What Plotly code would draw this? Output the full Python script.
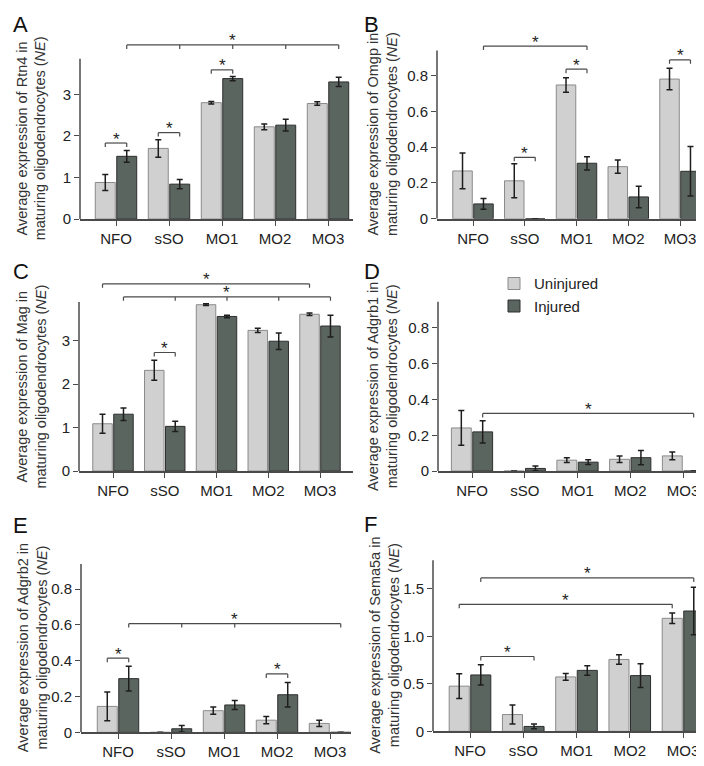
import plotly.graph_objects as go
from plotly.subplots import make_subplots

W, H = 704, 766

categories = ["NFO", "sSO", "MO1", "MO2", "MO3"]
panel_letters = ["A", "B", "C", "D", "E", "F"]
genes = ["Rtn4", "Omgp", "Mag", "Adgrb1", "Adgrb2", "Sema5a"]

# mean expression (NE) and error, uninjured / injured
rtn4_uninj = [0.88, 1.70, 2.80, 2.22, 2.78]
rtn4_uninj_err = [0.19, 0.21, 0.03, 0.07, 0.04]
rtn4_inj = [1.51, 0.84, 3.38, 2.26, 3.30]
rtn4_inj_err = [0.14, 0.11, 0.05, 0.14, 0.11]

omgp_uninj = [0.267, 0.212, 0.747, 0.291, 0.78]
omgp_uninj_err = [0.10, 0.095, 0.04, 0.037, 0.06]
omgp_inj = [0.083, 0.0, 0.31, 0.122, 0.265]
omgp_inj_err = [0.03, None, 0.037, 0.06, 0.138]

mag_uninj = [1.09, 2.32, 3.83, 3.24, 3.61]
mag_uninj_err = [0.22, 0.23, 0.02, 0.05, 0.03]
mag_inj = [1.31, 1.03, 3.56, 2.99, 3.34]
mag_inj_err = [0.145, 0.12, 0.03, 0.19, 0.25]

adgrb1_uninj = [0.241, 0.0, 0.061, 0.066, 0.085]
adgrb1_uninj_err = [0.097, None, 0.013, 0.018, 0.022]
adgrb1_inj = [0.219, 0.015, 0.05, 0.075, 0.0]
adgrb1_inj_err = [0.062, 0.013, 0.013, 0.04, None]

adgrb2_uninj = [0.145, 0.0, 0.121, 0.068, 0.05]
adgrb2_uninj_err = [0.08, None, 0.02, 0.02, 0.017]
adgrb2_inj = [0.30, 0.02, 0.153, 0.21, 0.0]
adgrb2_inj_err = [0.069, 0.018, 0.025, 0.068, None]

sema5a_uninj = [0.476, 0.177, 0.573, 0.757, 1.19]
sema5a_uninj_err = [0.13, 0.10, 0.035, 0.05, 0.055]
sema5a_inj = [0.594, 0.052, 0.642, 0.587, 1.267]
sema5a_inj_err = [0.107, 0.025, 0.05, 0.125, 0.25]

# significance brackets: (level, [(category, group), ...]); group 0 = uninjured, 1 = injured
rtn4_sig = [(1.83, [(0, 0), (0, 1)]), (2.08, [(1, 0), (1, 1)]), (3.59, [(2, 0), (2, 1)]),
            (4.19, [(0, 1), (1, 1), (2, 1), (3, 1), (4, 1)])]
omgp_sig = [(0.964, [(0, 1), (2, 1)]), (0.835, [(2, 0), (2, 1)]),
            (0.343, [(1, 0), (1, 1)]), (0.887, [(4, 0), (4, 1)])]
mag_sig = [(4.31, [(0, 0), (4, 0)]), (4.01, [(0, 1), (1, 1), (2, 1), (3, 1), (4, 1)]),
           (2.73, [(1, 0), (1, 1)])]
adgrb1_sig = [(0.322, [(0, 1), (4, 1)])]
adgrb2_sig = [(0.414, [(0, 0), (0, 1)]), (0.326, [(3, 0), (3, 1)]),
              (0.607, [(0, 1), (1, 1), (2, 1), (4, 1)])]
sema5a_sig = [(1.615, [(0, 1), (4, 1)]), (1.337, [(0, 0), (4, 0)]), (0.788, [(0, 1), (1, 1)])]

ticks_4 = ([0, 1, 2, 3], ["0", "1", "2", "3"])
ticks_08 = ([0, 0.2, 0.4, 0.6, 0.8], ["0", "0.2", "0.4", "0.6", "0.8"])
ticks_15 = ([0, 0.5, 1.0, 1.5], ["0", "0.5", "1.0", "1.5"])

data = [
    (rtn4_uninj, rtn4_uninj_err, rtn4_inj, rtn4_inj_err, rtn4_sig, ticks_4),
    (omgp_uninj, omgp_uninj_err, omgp_inj, omgp_inj_err, omgp_sig, ticks_08),
    (mag_uninj, mag_uninj_err, mag_inj, mag_inj_err, mag_sig, ticks_4),
    (adgrb1_uninj, adgrb1_uninj_err, adgrb1_inj, adgrb1_inj_err, adgrb1_sig, ticks_08),
    (adgrb2_uninj, adgrb2_uninj_err, adgrb2_inj, adgrb2_inj_err, adgrb2_sig, ticks_08),
    (sema5a_uninj, sema5a_uninj_err, sema5a_inj, sema5a_inj_err, sema5a_sig, ticks_15),
]

# panel geometry in pixels: axis left/right, NFO / MO3 centres, zero line, px per unit,
# axis-line top (data), range top (data), title x centre, letter top-left
geom = [
    dict(x0=72, x1=345, c0=108, c4=320, y0=213.3, ppu=42.0, top=3.86, rtop=4.5, tx=23.5, lx=3, ly=2),
    dict(x0=429, x1=700, c0=465, c4=672, y0=213, ppu=181, top=0.94, rtop=1.06, tx=374.5, lx=354, ly=2),
    dict(x0=71, x1=345, c0=105, c4=312, y0=468, ppu=43.9, top=3.89, rtop=4.6, tx=24, lx=3, ly=252),
    dict(x0=430, x1=700, c0=464, c4=675, y0=468, ppu=181, top=0.945, rtop=1.0, tx=374.5, lx=354, ly=252),
    dict(x0=73, x1=343, c0=110, c4=322, y0=732, ppu=181, top=0.94, rtop=1.0, tx=24, lx=3, ly=508),
    dict(x0=425, x1=700, c0=462, c4=675, y0=731, ppu=96, top=1.80, rtop=1.85, tx=377, lx=354, ly=507),
]

LIGHT = "#d0d0d0"
DARK = "#5b6560"
BARGAP = 0.19
OFF = (1 - BARGAP) / 4
FONT = "Liberation Sans, Arial, sans-serif"

fig = make_subplots(rows=3, cols=2)
shapes = []
annotations = []

for i, (u, ue, inj, ie, sig, ticks) in enumerate(data):
    row, col = i // 2 + 1, i % 2 + 1
    g = geom[i]
    n = "" if i == 0 else str(i + 1)
    xs = list(range(len(categories)))

    fig.add_trace(go.Bar(x=xs, y=u, name="Uninjured", legendgroup="u", showlegend=(i == 0),
                         marker=dict(color=LIGHT, line=dict(color="#8a8a8a", width=1)),
                         error_y=dict(type="data", array=ue, color="#1e1e1e", thickness=1.5, width=3)),
                  row=row, col=col)
    fig.add_trace(go.Bar(x=xs, y=inj, name="Injured", legendgroup="i", showlegend=(i == 0),
                         marker=dict(color=DARK, line=dict(color="#2e2e2e", width=1)),
                         error_y=dict(type="data", array=ie, color="#1e1e1e", thickness=1.5, width=3)),
                  row=row, col=col)

    sp = (g["c4"] - g["c0"]) / 4
    xr = [(g["x0"] - g["c0"]) / sp, (g["x1"] - g["c0"]) / sp]
    yd = [1 - g["y0"] / H, 1 - (g["y0"] - g["rtop"] * g["ppu"]) / H]
    fig.update_layout({
        f"xaxis{n}": dict(domain=[g["x0"] / W, g["x1"] / W], range=xr, tickvals=xs, ticktext=categories,
                          showline=True, linecolor="#4a4a4a", linewidth=1.5, ticks="outside",
                          ticklen=5, tickwidth=1.2, tickcolor="#4a4a4a", showgrid=False, zeroline=False,
                          tickfont=dict(size=15, color="#222", family=FONT)),
        f"yaxis{n}": dict(domain=yd, range=[0, g["rtop"]], tickvals=ticks[0], ticktext=ticks[1],
                          showline=False, ticks="outside", ticklen=5, tickwidth=1.2, tickcolor="#4a4a4a",
                          showgrid=False, zeroline=False, tickfont=dict(size=15, color="#222", family=FONT)),
    })
    # y axis line stops at the axis top
    shapes.append(dict(type="line", xref=f"x{n} domain", yref=f"y{n}", x0=0, x1=0, y0=0, y1=g["top"],
                       line=dict(color="#4a4a4a", width=1.5)))

    # significance brackets
    tl = 4 / g["ppu"]
    for level, pts in sig:
        px = [c + (OFF if grp else -OFF) for c, grp in pts]
        shapes.append(dict(type="line", xref=f"x{n}", yref=f"y{n}", x0=px[0], x1=px[-1], y0=level, y1=level,
                           line=dict(color="#4a4a4a", width=1.2)))
        for p in px:
            shapes.append(dict(type="line", xref=f"x{n}", yref=f"y{n}", x0=p, x1=p, y0=level, y1=level - tl,
                               line=dict(color="#4a4a4a", width=1.2)))
        annotations.append(dict(x=(px[0] + px[-1]) / 2, y=level, xref=f"x{n}", yref=f"y{n}", text="*",
                                showarrow=False, yanchor="middle", yshift=4,
                                font=dict(size=17, color="#222", family=FONT)))

    # axis title centred on the visible y axis line
    ty = g["y0"] - g["top"] * g["ppu"] / 2
    annotations.append(dict(x=g["tx"] / W, y=1 - ty / H, xref="paper", yref="paper",
                            text=f"Average expression of {genes[i]} in<br>maturing oligodendrocytes (<i>NE</i>)",
                            textangle=-90, showarrow=False, xanchor="center", yanchor="middle",
                            font=dict(size=14.5, color="#333", family=FONT)))
    annotations.append(dict(x=g["lx"] / W, y=1 - g["ly"] / H, xref="paper", yref="paper",
                            text=panel_letters[i], showarrow=False, xanchor="left", yanchor="top",
                            font=dict(size=22, color="#111", family=FONT)))

fig.update_layout(
    width=W, height=H,
    margin=dict(l=0, r=0, t=0, b=0),
    paper_bgcolor="white", plot_bgcolor="white",
    barmode="group", bargap=BARGAP, bargroupgap=0.07,
    shapes=shapes, annotations=annotations,
    legend=dict(x=486 / W, y=1 - 262 / H, xanchor="left", yanchor="top", bgcolor="rgba(0,0,0,0)",
                font=dict(size=15, color="#222", family=FONT), tracegroupgap=0),
    font=dict(family=FONT),
)

fig.write_html("out.html")
